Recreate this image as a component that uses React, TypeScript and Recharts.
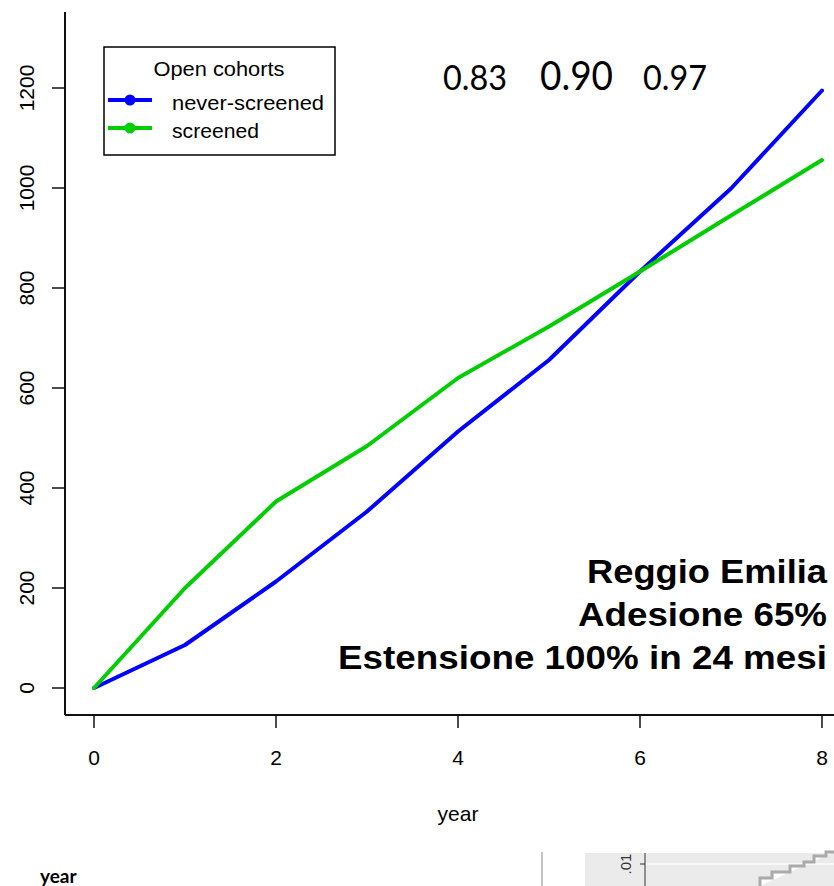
import React from 'react';
import { LineChart, Line, XAxis, YAxis, Legend } from 'recharts';

const years = [0, 1, 2, 3, 4, 5, 6, 7, 8];
const neverScreened = [0, 86, 213, 353, 513, 656, 833, 999, 1195];
const screened = [0, 200, 373, 484, 620, 723, 833, 945, 1056];
const xTicks = [0, 2, 4, 6, 8];
const yTicks = [0, 200, 400, 600, 800, 1000, 1200];
const ratioLabels = ['0.83', '0.90', '0.97'];
const annotationLines = ['Reggio Emilia', 'Adesione 65%', 'Estensione 100% in 24 mesi'];
const legendTitle = 'Open cohorts';
const seriesNames = ['never-screened', 'screened'];
const seriesColors = ['#0000FF', '#00CD00'];
const xLabel = 'year';

const data = years.map((y, i) => ({ year: y, never: neverScreened[i], screened: screened[i] }));

const AXIS_FONT = '"Liberation Sans", Arial, Helvetica, sans-serif';
const CAL_FONT = 'Lato, "Open Sans", sans-serif';

const YTick = (props: any) => {
  const { x, y, payload } = props;
  const cx = x - 26;
  return (
    <text
      x={cx}
      y={y}
      transform={`rotate(-90 ${cx} ${y})`}
      textAnchor="middle"
      dominantBaseline="central"
      fontSize={21}
      fontFamily={AXIS_FONT}
      fill="#000"
    >
      {payload.value}
    </text>
  );
};

const LegendBox = (props: any) => {
  const payload = props.payload || [];
  return (
    <svg width={234} height={111} style={{ display: 'block' }}>
      <rect x={1} y={1} width={231} height={108} fill="#fff" stroke="#000" strokeWidth={1.5} />
      <text x={116} y={22} textAnchor="middle" dominantBaseline="central" fontSize={21} fontFamily={AXIS_FONT} fill="#000" textLength={131} lengthAdjust="spacingAndGlyphs">
        {legendTitle}
      </text>
      {payload.map((p: any, i: number) => {
        const yy = 54 + i * 28;
        const w = p.value === seriesNames[0] ? 152 : 87;
        return (
          <g key={p.value}>
            <line x1={5} x2={49} y1={yy} y2={yy} stroke={p.color} strokeWidth={4} />
            <circle cx={27} cy={yy} r={5.5} fill={p.color} />
            <text x={69} y={yy + 2} dominantBaseline="central" fontSize={21} fontFamily={AXIS_FONT} fill="#000" textLength={w} lengthAdjust="spacingAndGlyphs">
              {p.value}
            </text>
          </g>
        );
      })}
    </svg>
  );
};

export default function App() {
  return (
    <div style={{ position: 'absolute', left: 0, top: 0, width: 834, height: 886, overflow: 'hidden', background: '#fff' }}>
      <LineChart width={834} height={886} data={data} margin={{ top: 12, right: 0, left: 0, bottom: 0 }}>
        <XAxis
          dataKey="year"
          type="number"
          domain={[-0.3187, 8.1319]}
          allowDataOverflow
          ticks={xTicks}
          height={171}
          tickSize={13}
          tickMargin={22}
          axisLine={{ stroke: '#111', strokeWidth: 2 }}
          tickLine={{ stroke: '#111', strokeWidth: 1.5 }}
          tick={{ fontSize: 21, fontFamily: AXIS_FONT, fill: '#000' }}
        />
        <XAxis
          xAxisId="top"
          orientation="top"
          dataKey="year"
          type="number"
          domain={[-0.3187, 8.1319]}
          allowDataOverflow
          height={0}
          tick={false}
          tickLine={false}
          axisLine={{ stroke: '#111', strokeWidth: 2 }}
        />
        <YAxis
          type="number"
          domain={[-54, 1352]}
          allowDataOverflow
          ticks={yTicks}
          width={65}
          tickSize={13}
          tickMargin={0}
          axisLine={{ stroke: '#111', strokeWidth: 2 }}
          tickLine={{ stroke: '#111', strokeWidth: 1.5 }}
          tick={<YTick />}
        />
        <Legend
          layout="vertical"
          verticalAlign="middle"
          align="center"
          content={<LegendBox />}
          wrapperStyle={{ position: 'absolute', left: 103, top: 46, width: 234, height: 111 }}
        />
        <Line
          type="linear"
          dataKey="never"
          name={seriesNames[0]}
          stroke={seriesColors[0]}
          strokeWidth={4}
          strokeLinecap="round"
          strokeLinejoin="round"
          dot={false}
          activeDot={false}
          isAnimationActive={false}
        />
        <Line
          type="linear"
          dataKey="screened"
          name={seriesNames[1]}
          stroke={seriesColors[1]}
          strokeWidth={4}
          strokeLinecap="round"
          strokeLinejoin="round"
          dot={false}
          activeDot={false}
          isAnimationActive={false}
        />
      </LineChart>
      <svg width={834} height={886} style={{ position: 'absolute', left: 0, top: 0, pointerEvents: 'none' }}>
        <text x={458} y={813} textAnchor="middle" dominantBaseline="central" fontSize={21} fontFamily={AXIS_FONT} fill="#000">
          {xLabel}
        </text>
        <text x={443} y={90} fontSize={35} fontFamily={CAL_FONT} fill="#000" textLength={64} lengthAdjust="spacingAndGlyphs">{ratioLabels[0]}</text>
        <text x={540} y={90} fontSize={40} fontFamily={CAL_FONT} fill="#000" textLength={73} lengthAdjust="spacingAndGlyphs">{ratioLabels[1]}</text>
        <text x={643} y={90} fontSize={35} fontFamily={CAL_FONT} fill="#000" textLength={64} lengthAdjust="spacingAndGlyphs">{ratioLabels[2]}</text>
        <text x={587} y={583} fontSize={33} fontWeight="bold" fontFamily={AXIS_FONT} fill="#000" textLength={240} lengthAdjust="spacingAndGlyphs">{annotationLines[0]}</text>
        <text x={578} y={626} fontSize={33} fontWeight="bold" fontFamily={AXIS_FONT} fill="#000" textLength={249} lengthAdjust="spacingAndGlyphs">{annotationLines[1]}</text>
        <text x={338} y={669} fontSize={33} fontWeight="bold" fontFamily={AXIS_FONT} fill="#000" textLength={489} lengthAdjust="spacingAndGlyphs">{annotationLines[2]}</text>
        {/* fragment of the next slide at the bottom */}
        <line x1={542} x2={542} y1={852} y2={886} stroke="#888" strokeWidth={1} />
        <rect x={585} y={853} width={249} height={33} fill="#ebebeb" />
        <line x1={645} x2={834} y1={864} y2={864} stroke="#f8f8f8" strokeWidth={2} />
        <line x1={645} x2={645} y1={853} y2={886} stroke="#333" strokeWidth={1} />
        <line x1={640} x2={645} y1={864} y2={864} stroke="#333" strokeWidth={1} />
        <text x={625} y={864} transform="rotate(-90 625 864)" textAnchor="middle" dominantBaseline="central" fontSize={15} fontFamily={AXIS_FONT} fill="#333">.01</text>
        <polyline points="760,886 760,878 772,878 772,872 790,872 790,866 804,866 804,862 814,862 814,856 826,856 826,852 834,852" fill="#fff" stroke="#aaa" strokeWidth={3} />
        <text x={40} y={883} fontSize={19} fontWeight="bold" fontFamily={CAL_FONT} fill="#000">year</text>
      </svg>
    </div>
  );
}
